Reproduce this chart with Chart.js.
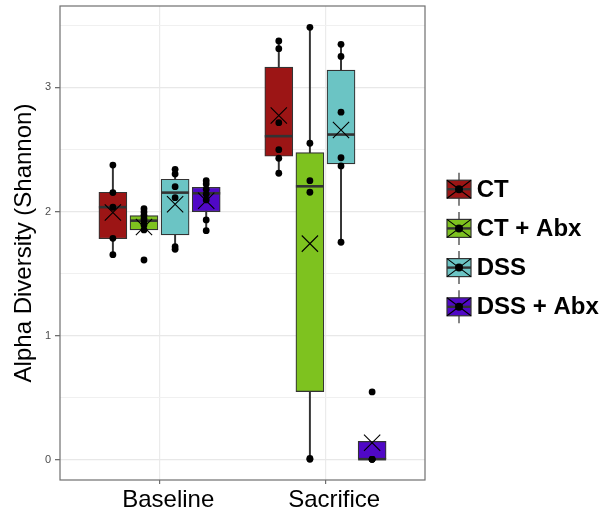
<!DOCTYPE html>
<html>
<head>
<meta charset="utf-8">
<script src="https://cdn.jsdelivr.net/npm/chart.js@4.4.1/dist/chart.umd.min.js"></script>
<style>
html, body { margin: 0; padding: 0; background: #ffffff; }
#c { display: block; }
</style>
</head>
<body>
<canvas id="c" width="606" height="515"></canvas>
<script>
// ---------------- data ----------------
const categories = ['Baseline', 'Sacrifice'];
const groups = ['CT', 'CT + Abx', 'DSS', 'DSS + Abx'];
const groupColors = ['#9c1515', '#7ec21f', '#6bc4c4', '#5008c6'];

const yMajorTicks = [0, 1, 2, 3];
const yTickLabels = ['0', '1', '2', '3'];
const yMinorTicks = [0.5, 1.5, 2.5, 3.5];

// box statistics, one row per group: [Baseline, Sacrifice]
const whiskerLow  = [[1.652, 2.305], [1.851, 0.000], [1.700, 1.752], [1.845, 0.000]];
const boxQ1       = [[1.781, 2.445], [1.851, 0.548], [1.811, 2.383], [1.998, 0.004]];
const boxMedian   = [[2.035, 2.607], [1.926, 2.203], [2.152, 2.620], [2.147, 0.004]];
const boxQ3       = [[2.155, 3.163], [1.966, 2.475], [2.260, 3.140], [2.195, 0.147]];
const whiskerHigh = [[2.374, 3.374], [2.023, 3.484], [2.340, 3.347], [2.248, 0.147]];
const groupMean   = [[1.992, 2.773], [1.875, 1.741], [2.058, 2.657], [2.087, 0.137]];

// individual samples, [Baseline list, Sacrifice list]
const ctPoints     = [[2.374, 2.152, 2.034, 1.784, 1.652], [3.374, 3.312, 2.716, 2.498, 2.429, 2.308]];
const ctAbxPoints  = [[2.023, 1.996, 1.969, 1.942, 1.918, 1.891, 1.851, 1.609], [3.484, 2.550, 2.248, 2.155, 0.010, 0.003]];
const dssPoints    = [[2.340, 2.302, 2.200, 2.111, 1.716, 1.695], [3.347, 3.250, 2.800, 2.433, 2.367, 1.752]];
const dssAbxPoints = [[2.248, 2.222, 2.179, 2.139, 2.093, 1.932, 1.845], [0.546, 0.003, 0.003, 0.003]];
const samplePoints = [ctPoints, ctAbxPoints, dssPoints, dssAbxPoints];

// ---------------- layout helpers ----------------
const FONT = "'Liberation Sans', Arial, Helvetica, sans-serif";
const dodgeWidth = 0.75;
const slot = dodgeWidth / groups.length;
const xPos = (c, g) => (c + 1) + (g - (groups.length - 1) / 2) * slot;

const datasets = [];
groups.forEach((name, g) => {
  datasets.push({
    type: 'bar', label: name + ' whisker',
    data: categories.map((_, c) => ({ x: xPos(c, g), y: [whiskerLow[g][c], whiskerHigh[g][c]] })),
    backgroundColor: '#333333', borderWidth: 0, barThickness: 1.3, grouped: false, order: 6
  });
  datasets.push({
    type: 'bar', label: name,
    data: categories.map((_, c) => ({ x: xPos(c, g), y: [boxQ1[g][c], boxQ3[g][c]] })),
    backgroundColor: groupColors[g], borderColor: '#333333', borderWidth: 1.2,
    borderSkipped: false, barThickness: 28, grouped: false, order: 5
  });
  datasets.push({
    type: 'scatter', label: name + ' median',
    data: categories.map((_, c) => ({ x: xPos(c, g), y: boxMedian[g][c] })),
    pointStyle: 'line', radius: 14, borderWidth: 2.6, borderColor: '#333333', order: 4
  });
  datasets.push({
    type: 'scatter', label: name + ' mean',
    data: categories.map((_, c) => ({ x: xPos(c, g), y: groupMean[g][c] })),
    pointStyle: 'crossRot', radius: 11.5, borderWidth: 1.1, borderColor: '#000000', order: 3
  });
  const pts = [];
  categories.forEach((_, c) => samplePoints[g][c].forEach(v => pts.push({ x: xPos(c, g), y: v })));
  datasets.push({
    type: 'scatter', label: name + ' samples', data: pts,
    pointStyle: 'circle', radius: 3.4, backgroundColor: '#000000', borderWidth: 0, order: 2
  });
});

// ---------------- plugins ----------------
const panelBorder = {
  id: 'panelBorder',
  afterDraw(chart) {
    const { ctx, chartArea: a } = chart;
    ctx.save();
    ctx.strokeStyle = '#6f6f6f';
    ctx.lineWidth = 1.2;
    ctx.strokeRect(a.left, a.top, a.right - a.left, a.bottom - a.top);
    ctx.restore();
  }
};

function drawKey(ctx, cx, cy, color) {
  ctx.save();
  ctx.strokeStyle = '#333333';
  ctx.lineWidth = 1.2;
  ctx.beginPath(); ctx.moveTo(cx, cy - 16.5); ctx.lineTo(cx, cy + 16.5); ctx.stroke();
  ctx.fillStyle = color;
  ctx.fillRect(cx - 12, cy - 9, 24, 18);
  ctx.strokeRect(cx - 12, cy - 9, 24, 18);
  ctx.strokeStyle = '#000000';
  ctx.lineWidth = 1.1;
  ctx.beginPath();
  ctx.moveTo(cx - 12, cy - 9); ctx.lineTo(cx + 12, cy + 9);
  ctx.moveTo(cx + 12, cy - 9); ctx.lineTo(cx - 12, cy + 9);
  ctx.stroke();
  ctx.strokeStyle = '#333333';
  ctx.lineWidth = 2.4;
  ctx.beginPath(); ctx.moveTo(cx - 12, cy); ctx.lineTo(cx + 12, cy); ctx.stroke();
  ctx.fillStyle = '#000000';
  ctx.beginPath(); ctx.arc(cx, cy, 4, 0, Math.PI * 2); ctx.fill();
  ctx.restore();
}

const boxLegend = {
  id: 'boxLegend',
  afterDraw(chart) {
    const { ctx, chartArea: a } = chart;
    const midY = (a.top + a.bottom) / 2 + 5;
    const gap = 39.2;
    groups.forEach((name, g) => {
      const cy = midY + (g - (groups.length - 1) / 2) * gap;
      drawKey(ctx, a.right + 34, cy, groupColors[g]);
      ctx.save();
      ctx.font = 'bold 24px ' + FONT;
      ctx.fillStyle = '#000000';
      ctx.textAlign = 'left';
      ctx.textBaseline = 'middle';
      ctx.fillText(name, a.right + 51.7, cy + 1);
      ctx.restore();
    });
  }
};

// ---------------- chart ----------------
Chart.defaults.font.family = FONT;
new Chart(document.getElementById('c'), {
  type: 'bar',
  data: { datasets },
  options: {
    responsive: false,
    animation: false,
    events: [],
    layout: { autoPadding: false, padding: { top: 6, right: 181, bottom: 0, left: 0 } },
    plugins: { legend: { display: false }, tooltip: { enabled: false } },
    scales: {
      x: {
        type: 'linear', min: 0.4, max: 2.6, offset: false,
        afterBuildTicks: s => { s.ticks = categories.map((_, i) => ({ value: i + 1 })); },
        afterFit: s => { s.height = 35; s.paddingLeft = 0; s.paddingRight = 0; },
        ticks: {
          autoSkip: false, maxRotation: 0, padding: 2, labelOffset: 8.7,
          color: '#000000', font: { size: 24, family: FONT },
          callback: (v, i) => categories[i]
        },
        grid: { offset: false, color: '#ebebeb', lineWidth: 1.2, tickColor: '#6f6f6f', tickLength: 4 },
        border: { display: false }
      },
      y: {
        type: 'linear', min: -0.164, max: 3.656,
        afterBuildTicks: s => {
          s.ticks = [...yMajorTicks, ...yMinorTicks].sort((a, b) => a - b).map(v => ({ value: v }));
        },
        afterFit: s => { s.width = 60; s.paddingTop = 0; s.paddingBottom = 0; },
        ticks: {
          autoSkip: false, padding: 4, color: '#4d4d4d', font: { size: 11, family: FONT },
          callback: v => { const i = yMajorTicks.indexOf(v); return i >= 0 ? yTickLabels[i] : ''; }
        },
        grid: {
          color: c => yMajorTicks.includes(c.tick.value) ? '#e8e8e8' : '#f0f0f0',
          lineWidth: c => yMajorTicks.includes(c.tick.value) ? 1.3 : 1,
          tickColor: c => yMajorTicks.includes(c.tick.value) ? '#6f6f6f' : 'rgba(0,0,0,0)',
          tickLength: 5
        },
        border: { display: false },
        title: {
          display: true, text: 'Alpha Diversity (Shannon)', color: '#000000',
          font: { size: 24, family: FONT }, padding: { top: 10, bottom: 0 }
        }
      }
    }
  },
  plugins: [panelBorder, boxLegend]
});
</script>
</body>
</html>
